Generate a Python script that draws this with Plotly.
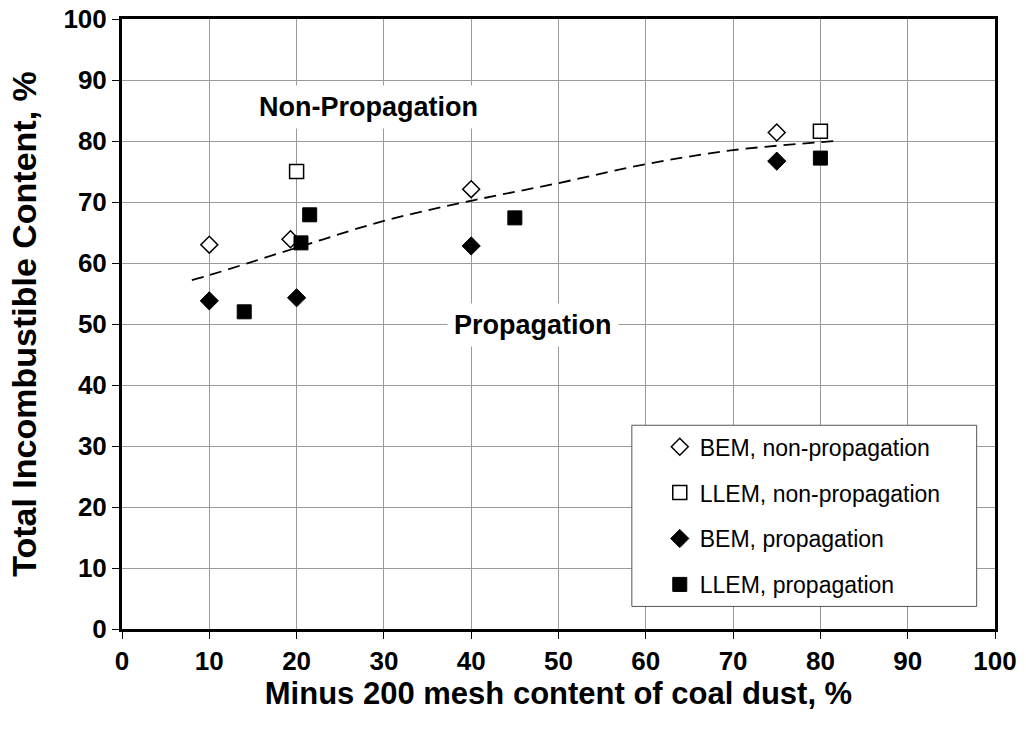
import plotly.graph_objects as go

# ---- data ----
bem_np_x = [10, 19.3, 40, 75]
bem_np_y = [63.0, 63.9, 72.1, 81.4]
llem_np_x = [20, 80]
llem_np_y = [75.0, 81.6]
bem_p_x = [10, 20, 40, 75]
bem_p_y = [53.8, 54.3, 62.8, 76.7]
llem_p_x = [14, 20.5, 21.5, 45, 80]
llem_p_y = [52.0, 63.3, 67.9, 67.4, 77.2]
trend_x = [8, 10, 20, 30, 40, 50, 60, 70, 80, 81.7]
trend_y = [57.2, 58.0, 62.5, 66.9, 70.2, 73.1, 76.2, 78.5, 79.8, 80.0]
ticks = [0, 10, 20, 30, 40, 50, 60, 70, 80, 90, 100]

FONT = "Arial, Liberation Sans, sans-serif"

fig = go.Figure()
fig.add_trace(go.Scatter(x=trend_x, y=trend_y, mode="lines", showlegend=False,
                         line=dict(color="black", width=1.8, dash="12px,7px", shape="spline"),
                         hoverinfo="skip"))
fig.add_trace(go.Scatter(x=bem_np_x, y=bem_np_y, mode="markers", name="BEM, non-propagation",
                         legendgroup="a",
                         marker=dict(symbol="diamond", size=13, color="white",
                                     line=dict(color="black", width=1.5))))
fig.add_trace(go.Scatter(x=llem_np_x, y=llem_np_y, mode="markers", name="LLEM, non-propagation",
                         legendgroup="b",
                         marker=dict(symbol="square", size=14, color="white",
                                     line=dict(color="black", width=1.5))))
fig.add_trace(go.Scatter(x=bem_p_x, y=bem_p_y, mode="markers", name="BEM, propagation",
                         legendgroup="c",
                         marker=dict(symbol="diamond", size=14, color="black",
                                     line=dict(color="black", width=1))))
fig.add_trace(go.Scatter(x=llem_p_x, y=llem_p_y, mode="markers", name="LLEM, propagation",
                         legendgroup="d",
                         marker=dict(symbol="square", size=14, color="black",
                                     line=dict(color="black", width=1))))

axis_common = dict(
    range=[0, 100], tickvals=ticks, showgrid=True, gridcolor="#9a9a9a", gridwidth=1,
    showline=True, linecolor="black", linewidth=3, mirror=True, zeroline=False,
    ticks="outside", ticklen=7, tickwidth=1, tickcolor="black",
    ticklabeloverflow="allow",
    tickfont=dict(family=FONT, size=26, color="black", weight="bold"),
)

fig.update_layout(
    width=1026, height=736,
    margin=dict(l=122, r=31, t=19, b=107, autoexpand=False),
    paper_bgcolor="white", plot_bgcolor="white",
    font=dict(family=FONT, color="black"),
    xaxis=dict(axis_common,
               title=dict(text="<b>Minus 200 mesh content of coal dust, %</b>",
                          font=dict(family=FONT, size=31, color="black"), standoff=8)),
    yaxis=dict(axis_common,
               title=dict(text="<b>Total Incombustible Content, %</b>",
                          font=dict(family=FONT, size=34, color="black"), standoff=17)),
    showlegend=True,
    legend=dict(x=0.616, y=0.334, xanchor="left", yanchor="top",
                bgcolor="rgba(0,0,0,0)", borderwidth=0,
                font=dict(family=FONT, size=23, color="black"),
                traceorder="grouped", tracegroupgap=13),
    shapes=[dict(type="rect", xref="paper", yref="paper",
                 x0=0.584, x1=0.979, y0=0.037, y1=0.334,
                 fillcolor="white", line=dict(color="#555555", width=1), layer="above")],
    annotations=[
        dict(x=28.2, y=85.5, xref="x", yref="y", text="<b>Non-Propagation</b>", showarrow=False,
             font=dict(family=FONT, size=27, color="black"), bgcolor="white", borderpad=6),
        dict(x=47.1, y=49.8, xref="x", yref="y", text="<b>Propagation</b>", showarrow=False,
             font=dict(family=FONT, size=27, color="black"), bgcolor="white", borderpad=6),
    ],
)

fig.write_html("out.html", config={"displayModeBar": False},
               post_script="document.body.style.margin='0';document.body.style.overflow='hidden';")
